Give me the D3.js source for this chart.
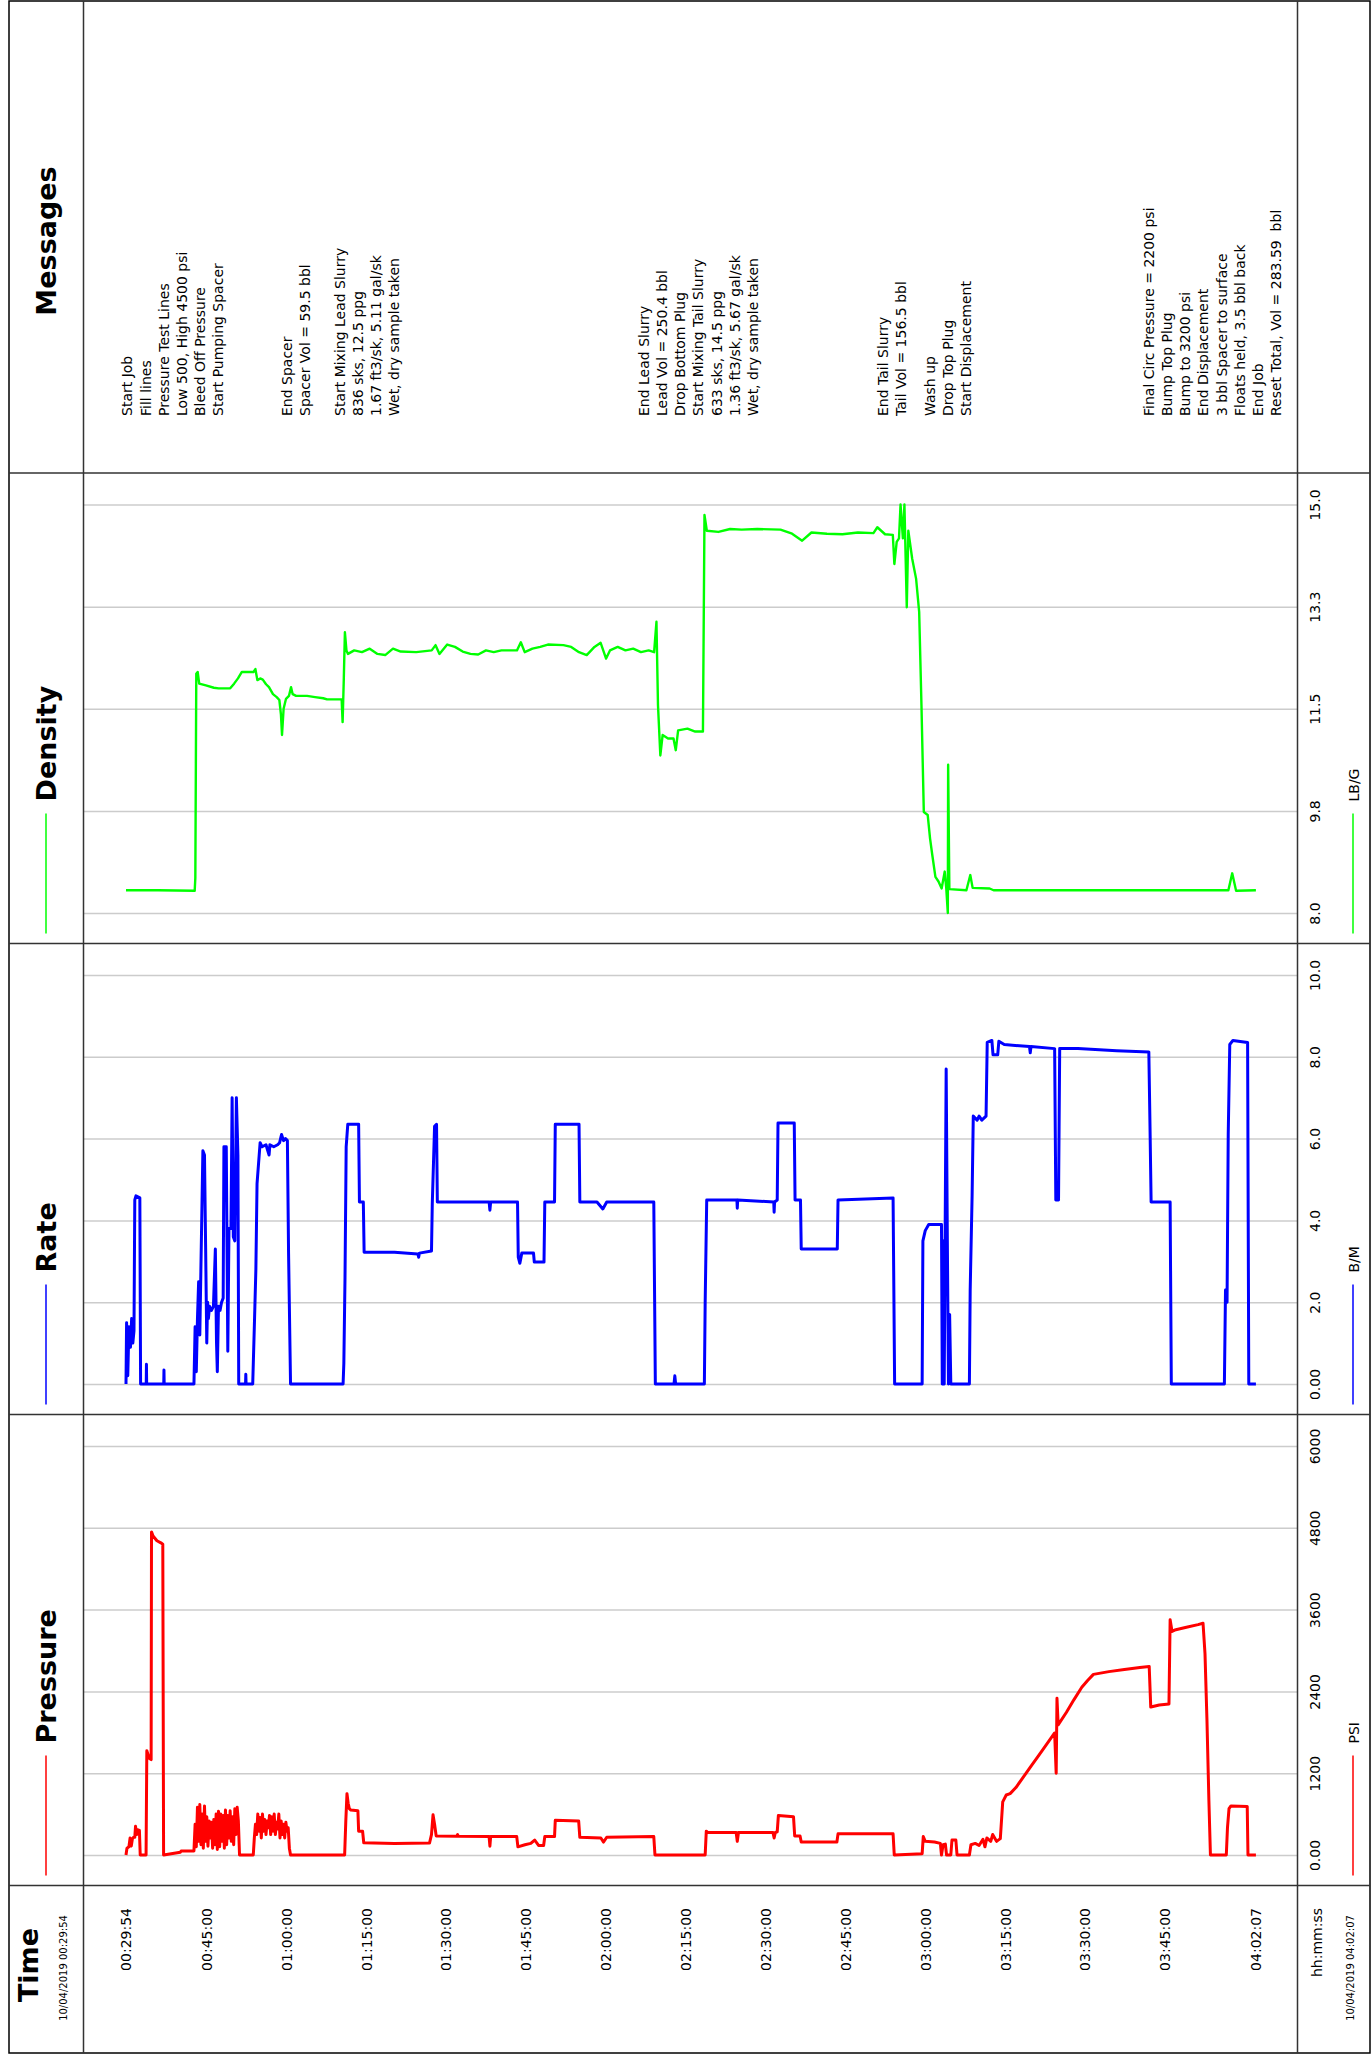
<!DOCTYPE html>
<html>
<head>
<meta charset="utf-8">
<script src="https://cdn.jsdelivr.net/npm/d3@7"></script>
<style>
  body { margin: 0; background: #fff; }
  svg { display: block; font-family: "DejaVu Sans", Verdana, sans-serif; }
</style>
</head>
<body>
<script>
// job log, 10/04/2019 -- times below are minutes after the first record
var startClock = "00:29:54";
var endClock = "04:02:07";
var timeTicks = ["00:29:54", "00:45:00", "01:00:00", "01:15:00", "01:30:00", "01:45:00", "02:00:00",
  "02:15:00", "02:30:00", "02:45:00", "03:00:00", "03:15:00", "03:30:00", "03:45:00", "04:02:07"];

var densityTicks = [8.0, 9.75, 11.5, 13.25, 15.0];
var densityLabels = ["8.0", "9.8", "11.5", "13.3", "15.0"];
var rateTicks = [0, 2, 4, 6, 8, 10];
var rateLabels = ["0.00", "2.0", "4.0", "6.0", "8.0", "10.0"];
var pressureTicks = [0, 1200, 2400, 3600, 4800, 6000];
var pressureLabels = ["0.00", "1200", "2400", "3600", "4800", "6000"];

var densityData = [[0,8.39],[6,8.39],[12.9,8.38],[13.02,8.6],[13.2,12.1],[13.46,12.13],[13.75,11.93],[15,11.9],
  [16.5,11.86],[17.39,11.85],[19.57,11.85],[20.3,11.93],[21.03,12.02],[21.76,12.13],[23.94,12.13],[24.3,12.18],
  [24.67,11.99],[25.2,12.02],[25.69,12.0],[26.3,11.92],[26.85,11.87],[27.6,11.75],[28.3,11.7],[28.8,11.65],
  [29.1,11.4],[29.3,11.05],[29.6,11.5],[30.05,11.67],[30.6,11.72],[31.0,11.87],[31.3,11.75],[31.94,11.72],
  [34,11.72],[35.5,11.7],[37.04,11.68],[37.76,11.66],[40.5,11.66],[40.68,11.27],[40.9,12.0],[41.11,12.81],
  [41.4,12.5],[41.69,12.44],[42.86,12.5],[44.31,12.47],[45.77,12.53],[47.22,12.44],[48.68,12.42],[50.14,12.53],
  [51.59,12.48],[54.5,12.47],[57.41,12.5],[58.14,12.59],[58.87,12.44],[60.32,12.6],[61.78,12.56],[63.23,12.48],
  [64.69,12.44],[66.14,12.43],[67.6,12.5],[69.06,12.47],[70.51,12.5],[73.42,12.5],[74.15,12.64],[74.88,12.47],
  [76.33,12.53],[77.79,12.56],[79.24,12.6],[82.15,12.59],[83.61,12.56],[85.07,12.47],[86.52,12.42],[87.98,12.56],
  [89.14,12.63],[90.16,12.36],[90.89,12.5],[92.34,12.56],[93.8,12.5],[95.25,12.53],[96.71,12.47],[98.16,12.5],
  [99.18,12.47],[99.62,12.99],[99.91,11.56],[100.35,10.7],[100.78,11.05],[101.8,10.99],[102.82,10.99],
  [103.25,10.79],[103.69,11.13],[105.44,11.16],[106.9,11.11],[108.35,11.11],[108.64,14.82],[109.08,14.55],
  [111.26,14.53],[113.45,14.58],[115.63,14.57],[118.54,14.58],[122.91,14.57],[125.09,14.5],[126.98,14.38],
  [128.73,14.52],[131.64,14.5],[134.55,14.49],[137.46,14.52],[140.37,14.51],[141.1,14.61],[142.55,14.49],
  [144.01,14.48],[144.3,13.98],[144.74,14.36],[145.17,14.42],[145.46,15.0],[145.9,14.42],[146.19,15.0],
  [146.63,13.24],[146.92,14.55],[147.65,14.07],[148.38,13.73],[148.96,13.16],[149.39,11.56],[149.83,9.73],
  [150.56,9.68],[151.0,9.28],[151.43,8.99],[152.01,8.62],[152.59,8.54],[153.18,8.42],[153.76,8.71],[154.05,8.42],
  [154.34,8.0],[154.4,10.54],[154.63,8.41],[157.83,8.39],[158.56,8.65],[159.0,8.43],[162.2,8.42],[162.93,8.39],
  [207.03,8.39],[207.75,8.68],[208.48,8.38],[212.2,8.39]];

var rateData = [[0,0],[0.11,1.5],[0.33,0.2],[0.55,1.4],[0.84,0.9],[1.06,1.6],[1.28,1.0],[1.5,1.3],[1.65,4.5],
  [1.87,4.6],[2.6,4.55],[2.74,0],[3.8,0],[3.84,0.48],[3.88,0],[7.09,0],[7.13,0.34],[7.17,0],[12.76,0],
  [12.98,1.4],[13.2,0.3],[13.42,1.6],[13.64,2.5],[13.86,1.2],[14.22,4.0],[14.44,5.7],[14.74,5.6],[14.95,3.4],
  [15.17,1.0],[15.32,2.0],[15.47,1.6],[15.69,1.9],[16.05,1.8],[16.42,1.9],[16.78,3.3],[17.0,1.0],[17.15,0.3],
  [17.37,1.9],[17.66,1.8],[17.95,2.0],[18.25,2.1],[18.39,5.8],[18.83,5.8],[19.12,0.8],[19.34,3.8],[19.71,3.8],
  [19.93,7.0],[20.15,3.6],[20.44,3.5],[20.73,7.0],[21.02,5.6],[21.17,0],[22.45,0],[22.5,0.24],[22.55,0],
  [23.8,0],[24.1,1.4],[24.39,2.8],[24.61,4.9],[25.19,5.9],[25.56,5.8],[26.29,5.85],[26.87,5.6],[27.02,5.85],
  [27.75,5.8],[28.48,5.85],[28.85,5.9],[29.21,6.1],[29.58,5.95],[29.95,6.0],[30.31,5.95],[30.53,3.2],[30.9,0],
  [40.77,0],[40.91,0.5],[41.13,2.6],[41.35,5.8],[41.65,6.35],[43.69,6.35],[43.84,4.45],[44.57,4.45],[44.72,3.22],
  [50.42,3.22],[54.81,3.18],[54.96,3.1],[55.1,3.2],[57.37,3.25],[57.52,4.4],[57.95,6.3],[58.32,6.35],[58.47,4.45],
  [65.05,4.45],[68.2,4.45],[68.34,4.25],[68.48,4.45],[73.53,4.45],[73.67,3.1],[73.97,2.95],[74.33,3.2],
  [76.53,3.2],[76.68,2.98],[78.5,2.98],[78.65,4.45],[80.48,4.45],[80.62,6.35],[85.08,6.35],[85.23,4.45],
  [88.45,4.45],[89.55,4.28],[90.28,4.45],[99.12,4.45],[99.41,0],[102.92,0],[103.07,0.2],[103.22,0],
  [108.62,0],[108.77,2.0],[109.06,4.5],[114.73,4.5],[114.8,4.3],[114.88,4.5],[121.65,4.45],[121.72,4.2],
  [121.8,4.45],[122.3,4.5],[122.45,6.38],[125.5,6.38],[125.65,4.5],[126.67,4.5],[126.81,3.3],[133.58,3.3],
  [133.72,4.5],[144.06,4.55],[144.35,0],[149.52,0],[149.66,3.5],[150.1,3.75],[150.75,3.9],[153.15,3.9],
  [153.3,0],[153.45,3.5],[153.66,0],[154.03,7.7],[154.25,3.5],[154.46,0],[154.68,1.7],[154.9,0],[158.39,0],
  [158.54,2.3],[158.9,4.6],[159.12,6.55],[159.85,6.45],[160.21,6.55],[160.72,6.45],[161.52,6.55],[161.74,8.35],
  [162.61,8.4],[162.83,8.05],[163.71,8.05],[163.92,8.38],[164.94,8.3],[169.67,8.25],[169.82,8.1],[169.96,8.25],
  [174.4,8.2],[174.62,4.5],[175.13,4.5],[175.35,8.2],[178.77,8.2],[186.05,8.15],[192.09,8.12],[192.31,6.3],
  [192.52,4.45],[196.09,4.45],[196.31,0],[206.28,0],[206.49,2.3],[206.78,2.0],[207.0,6.1],[207.29,8.3],
  [207.88,8.4],[210.64,8.35],[210.86,0],[212.2,0]];

var pressureData = [[0,0],[0.18,100],[0.55,120],[0.77,250],[0.99,130],[1.21,240],[1.43,260],[1.65,260],
  [1.79,420],[2.01,300],[2.23,370],[2.52,360],[2.67,0],[3.77,0],[3.91,1530],[4.35,1420],[4.72,1400],
  [4.79,4740],[5.08,4680],[5.81,4610],[6.55,4580],[6.91,4560],[7.06,0],[10.2,40],[10.35,60],[12.76,60],
  [12.98,450],[13.2,120],[13.42,700],[13.64,200],[13.86,740],[14.08,150],[14.3,600],[14.52,100],[14.74,720],
  [14.95,200],[15.17,560],[15.39,130],[15.61,500],[15.83,250],[16.05,480],[16.27,100],[16.49,520],[16.71,150],
  [16.93,600],[17.15,80],[17.37,640],[17.59,120],[17.81,600],[18.03,200],[18.25,580],[18.47,100],[18.68,660],
  [18.9,150],[19.12,580],[19.34,250],[19.56,650],[19.78,200],[20.0,560],[20.22,150],[20.44,680],[20.66,300],
  [20.88,700],[21.1,500],[21.32,0],[23.9,0],[24.1,250],[24.31,450],[24.53,300],[24.75,600],[24.97,350],
  [25.19,550],[25.41,250],[25.63,600],[25.85,350],[26.07,520],[26.29,300],[26.51,500],[26.73,400],[26.95,580],
  [27.17,300],[27.39,560],[27.61,350],[27.83,600],[28.05,300],[28.27,480],[28.48,380],[28.7,600],[28.92,250],
  [29.14,500],[29.36,300],[29.58,450],[29.8,250],[30.02,480],[30.24,350],[30.46,400],[30.68,100],[30.9,0],
  [41.06,0],[41.28,500],[41.5,900],[41.72,760],[41.94,680],[42.23,660],[43.55,650],[43.69,350],[44.43,350],
  [44.65,180],[50.42,170],[57.0,175],[57.37,300],[57.66,590],[57.95,450],[58.25,280],[62.12,275],[62.27,300],
  [62.41,275],[68.19,270],[68.34,130],[68.48,270],[73.38,270],[73.6,120],[74.92,150],[76.02,170],[76.75,220],
  [77.48,140],[78.43,140],[78.65,270],[80.48,270],[80.62,510],[85.01,500],[85.23,260],[89.18,250],[89.69,190],
  [90.28,260],[99.12,270],[99.34,0],[108.77,0],[108.98,350],[109.27,330],[114.59,330],[114.8,200],[115.02,330],
  [121.5,330],[121.72,250],[121.94,330],[122.3,340],[122.52,580],[125.36,560],[125.58,280],[126.59,280],
  [126.81,190],[133.51,190],[133.72,310],[144.06,310],[144.28,0],[149.52,20],[149.73,270],[150.1,200],
  [151.84,190],[152.94,170],[153.15,0],[153.45,150],[153.88,160],[154.1,0],[154.9,0],[155.12,220],[155.85,220],
  [156.07,0],[158.39,0],[158.68,150],[159.49,170],[160.21,140],[160.94,230],[161.31,120],[161.67,250],
  [162.4,200],[162.76,300],[163.49,200],[164.2,240],[164.65,780],[165.31,880],[166.04,900],[167.13,990],
  [168.58,1150],[170.04,1310],[171.49,1470],[172.95,1630],[174.4,1790],[174.69,1200],[174.84,2300],
  [175.06,1910],[176.59,2090],[178.04,2280],[179.5,2460],[180.59,2560],[181.68,2650],[184.59,2690],
  [187.5,2720],[190.41,2750],[192.16,2765],[192.45,2170],[194.05,2200],[195.87,2215],[196.09,3450],
  [196.45,3280],[196.96,3300],[199.15,3340],[201.33,3380],[202.27,3400],[202.64,2950],[203.0,2000],
  [203.37,800],[203.66,0],[206.64,0],[206.86,400],[207.15,680],[207.51,720],[210.57,710],[210.71,0],[212.2,0]];

var messageGroups = [
  {t: 0.28, lines: ["Start Job", "Fill lines", "Pressure Test Lines", "Low 500, High 4500 psi", "Bleed Off Pressure", "Start Pumping Spacer"]},
  {t: 30.3, lines: ["End Spacer", "Spacer Vol = 59.5 bbl"]},
  {t: 40.17, lines: ["Start Mixing Lead Slurry", "836 sks, 12.5 ppg", "1.67 ft3/sk, 5.11 gal/sk", "Wet, dry sample taken"]},
  {t: 97.28, lines: ["End Lead Slurry", "Lead Vol = 250.4 bbl", "Drop Bottom Plug", "Start Mixing Tail Slurry", "633 sks, 14.5 ppg", "1.36 ft3/sk, 5.67 gal/sk", "Wet, dry sample taken"]},
  {t: 142.1, lines: ["End Tail Slurry", "Tail Vol = 156.5 bbl"]},
  {t: 151.0, lines: ["Wash up", "Drop Top Plug", "Start Displacement"]},
  {t: 192.1, lines: ["Final Circ Pressure = 2200 psi", "Bump Top Plug", "Bump to 3200 psi", "End Displacement", "3 bbl Spacer to surface", "Floats held, 3.5 bbl back", "End Job", "Reset Total, Vol = 283.59  bbl"]}
];

var W = 1371, H = 2055;
var left = 9, right = 1370, colL = 83.5, colR = 1297.5;
var topY = 1, bottomY = 2053;

function secs(s) {
  var p = s.split(':');
  return (+p[0]) * 3600 + (+p[1]) * 60 + (+p[2]);
}
var t0 = secs(startClock);
var totalMin = (secs(endClock) - t0) / 60;

var svg = d3.select('body').append('svg')
  .attr('width', W)
  .attr('height', H);

var x = d3.scaleLinear()
  .domain([0, totalMin])
  .range([126, 1256]);

var panels = [
  {name: 'Messages', top: 1, bottom: 473},
  {name: 'Density', top: 473, bottom: 943.5, color: '#00ff00', unit: 'LB/G', domain: [8, 15],
    ticks: densityTicks, labels: densityLabels, data: densityData, width: 2.4},
  {name: 'Rate', top: 943.5, bottom: 1414.5, color: '#0000ff', unit: 'B/M', domain: [0, 10],
    ticks: rateTicks, labels: rateLabels, data: rateData, width: 3},
  {name: 'Pressure', top: 1414.5, bottom: 1885.5, color: '#ff0000', unit: 'PSI', domain: [0, 6000],
    ticks: pressureTicks, labels: pressureLabels, data: pressureData, width: 3},
  {name: 'Time', top: 1885.5, bottom: 2053}
];

// value panels
panels.forEach(function(p) {
  if (!p.data) return;
  var y = d3.scaleLinear()
    .domain(p.domain)
    .range([p.bottom - 30.5, p.top + 31.5]);

  var axis = d3.axisRight(y)
    .tickValues(p.ticks)
    .tickSize(-(colR - colL))
    .tickFormat(function(d, i) { return p.labels[i]; });

  var g = svg.append('g')
    .attr('transform', 'translate(' + colR + ',0)')
    .call(axis);
  g.select('.domain').remove();
  g.selectAll('.tick line')
    .attr('stroke', '#cccccc')
    .attr('stroke-width', 1.5);
  g.selectAll('.tick text')
    .attr('x', null)
    .attr('dy', '0.35em')
    .attr('transform', 'translate(17.5,0) rotate(-90)')
    .attr('text-anchor', 'middle')
    .attr('fill', '#000')
    .style('font-family', '"DejaVu Sans", Verdana, sans-serif')
    .style('font-size', '14px');

  var line = d3.line()
    .x(function(d) { return x(d[0]); })
    .y(function(d) { return y(d[1]); });

  svg.append('path')
    .attr('d', line(p.data))
    .attr('fill', 'none')
    .attr('stroke', p.color)
    .attr('stroke-width', p.width)
    .attr('stroke-linejoin', 'round');

  // legend strokes in both side columns
  [46, 1353].forEach(function(lx) {
    svg.append('line')
      .attr('x1', lx).attr('x2', lx)
      .attr('y1', p.bottom - 10).attr('y2', p.bottom - 130)
      .attr('stroke', p.color)
      .attr('stroke-width', 1.5);
  });

  svg.append('text')
    .attr('transform', 'translate(47,' + (p.bottom - 142) + ') rotate(-90)')
    .attr('dy', '0.35em')
    .style('font-size', '27px')
    .style('font-weight', 'bold')
    .text(p.name);

  svg.append('text')
    .attr('transform', 'translate(1354,' + (p.bottom - 142) + ') rotate(-90)')
    .attr('dy', '0.35em')
    .style('font-size', '14px')
    .text(p.unit);
});

// messages
svg.append('text')
  .attr('transform', 'translate(47,' + 241 + ') rotate(-90)')
  .attr('dy', '0.35em')
  .attr('text-anchor', 'middle')
  .style('font-size', '27px')
  .style('font-weight', 'bold')
  .text('Messages');

messageGroups.forEach(function(m) {
  m.lines.forEach(function(s, i) {
    svg.append('text')
      .attr('transform', 'translate(' + (x(m.t) + i * 18.2) + ',416) rotate(-90)')
      .attr('dy', '0.35em')
      .style('font-size', '14px')
      .style('white-space', 'pre')
      .text(s);
  });
});

// time axis
var tickMins = timeTicks.map(function(s) { return (secs(s) - t0) / 60; });
var tAxis = svg.append('g')
  .attr('transform', 'translate(0,1908)')
  .call(d3.axisBottom(x).tickValues(tickMins).tickSize(0)
    .tickFormat(function(d, i) { return timeTicks[i]; }));
tAxis.select('.domain').remove();
tAxis.selectAll('.tick text')
  .attr('y', null)
  .attr('dy', '0.35em')
  .attr('transform', 'rotate(-90)')
  .attr('text-anchor', 'end')
  .attr('fill', '#000')
  .style('font-family', '"DejaVu Sans", Verdana, sans-serif')
  .style('font-size', '14px');

svg.append('text')
  .attr('transform', 'translate(29,1965) rotate(-90)')
  .attr('dy', '0.35em')
  .attr('text-anchor', 'middle')
  .style('font-size', '27px')
  .style('font-weight', 'bold')
  .text('Time');

svg.append('text')
  .attr('transform', 'translate(63,1968) rotate(-90)')
  .attr('dy', '0.35em')
  .attr('text-anchor', 'middle')
  .style('font-size', '10px')
  .text('10/04/2019 ' + startClock);

svg.append('text')
  .attr('transform', 'translate(1317,1908) rotate(-90)')
  .attr('dy', '0.35em')
  .attr('text-anchor', 'end')
  .style('font-size', '14px')
  .text('hh:mm:ss');

svg.append('text')
  .attr('transform', 'translate(1350,1968) rotate(-90)')
  .attr('dy', '0.35em')
  .attr('text-anchor', 'middle')
  .style('font-size', '10px')
  .text('10/04/2019 ' + endClock);

// frame and dividers
svg.append('rect')
  .attr('x', left).attr('y', topY)
  .attr('width', right - left).attr('height', bottomY - topY)
  .attr('fill', 'none')
  .attr('stroke', '#000')
  .attr('stroke-width', 1.5);

panels.slice(1).forEach(function(p) {
  svg.append('line')
    .attr('x1', left).attr('x2', right)
    .attr('y1', p.top).attr('y2', p.top)
    .attr('stroke', '#333')
    .attr('stroke-width', 1.5);
});

[colL, colR].forEach(function(cx) {
  svg.append('line')
    .attr('x1', cx).attr('x2', cx)
    .attr('y1', topY).attr('y2', bottomY)
    .attr('stroke', '#333')
    .attr('stroke-width', 1.5);
});
</script>
</body>
</html>
